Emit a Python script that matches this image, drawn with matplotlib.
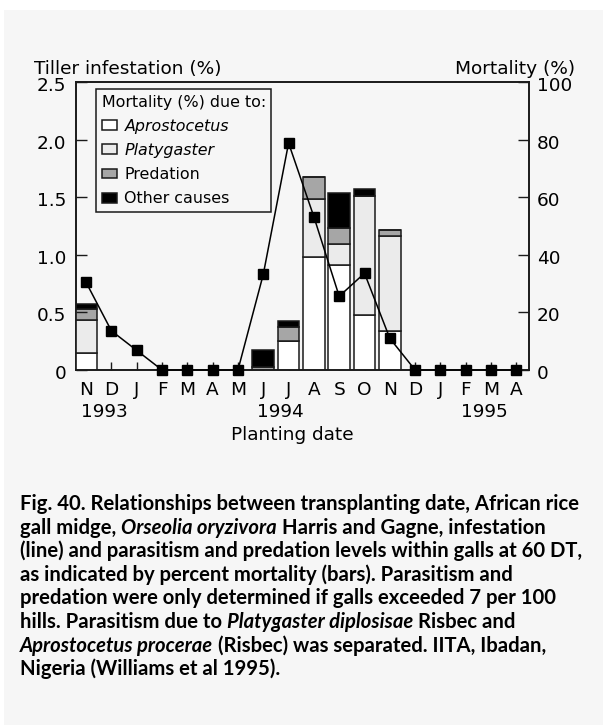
import numpy as np
import matplotlib
matplotlib.use("Agg")
import matplotlib.pyplot as plt
from matplotlib.patches import Rectangle
from matplotlib.transforms import ScaledTranslation

# ---- data -------------------------------------------------------------
months = ["N", "D", "J", "F", "M", "A", "M", "J", "J",
          "A", "S", "O", "N", "D", "J", "F", "M", "A"]
years = ["1993", "1994", "1995"]
year_centres = [0.74, 7.69, 15.72]          # positions on the month axis

# tiller infestation (%) per planting date
infestation = [0.76, 0.34, 0.17, 0.0, 0.0, 0.0, 0.0, 0.83, 1.97,
               1.33, 0.64, 0.84, 0.275, 0.0, 0.0, 0.0, 0.0, 0.0]

# planting dates where mortality was determined (index into months)
mortality_months = [0, 7, 8, 9, 10, 11, 12]
aprostocetus = [5.8, 0.0, 10.1, 39.1, 36.5, 19.2, 13.5]
platygaster = [11.6, 0.0, 0.0, 20.2, 7.1, 41.2, 33.0]
predation = [3.7, 1.0, 5.0, 7.8, 5.6, 0.0, 2.1]
other_causes = [1.8, 6.0, 2.0, 0.0, 12.4, 2.3, 0.0]

left_ticks = [0, 0.5, 1.0, 1.5, 2.0, 2.5]
left_ticklabels = ["0", "0.5", "1.0", "1.5", "2.0", "2.5"]
right_ticks = [0, 20, 40, 60, 80, 100]

caption_lines = [
    [("Fig. 40. Relationships between transplanting date, African rice", False)],
    [("gall midge,", False), ("Orseolia oryzivora", True),
     ("Harris and Gagne, infestation", False)],
    [("(line) and parasitism and predation levels within galls at 60 DT,", False)],
    [("as indicated by percent mortality (bars). Parasitism and", False)],
    [("predation were only determined if galls exceeded 7 per 100", False)],
    [("hills. Parasitism due to", False), ("Platygaster diplosisae", True),
     ("Risbec and", False)],
    [("Aprostocetus procerae", True),
     ("(Risbec) was separated. IITA, Ibadan,", False)],
    [("Nigeria (Williams et al 1995).", False)],
]

# ---- style ------------------------------------------------------------
W, H, DPI = 603, 725, 100
BG = "#f6f6f6"
INK = "#1a1a1a"
FS = 13.3
plt.rcParams["font.family"] = ["DejaVu Sans"]


def fx(px):
    return px / W


def fy(py):
    return 1 - py / H


fig = plt.figure(figsize=(W / DPI, H / DPI), dpi=DPI, facecolor="white")
fig.patches.append(Rectangle((fx(4), 0), 1, fy(10), transform=fig.transFigure,
                             facecolor=BG, edgecolor="none", zorder=-10))

ax = fig.add_axes([fx(76), fy(370), fx(529 - 76), (370 - 82) / H])
ax.set_facecolor(BG)
axL = ax.twinx()
ax.yaxis.tick_right()
axL.yaxis.tick_left()

# stacked mortality bars (right scale)
bottom = np.zeros(len(mortality_months))
components = [
    (aprostocetus, "white", "Aprostocetus"),
    (platygaster, "#ebebeb", "Platygaster"),
    (predation, "#a6a6a6", "Predation"),
    (other_causes, "black", "Other causes"),
]
for vals, colour, label in components:
    vals = np.asarray(vals)
    ax.bar(mortality_months, vals, width=0.86, bottom=bottom, color=colour,
           edgecolor=INK, linewidth=1.1, zorder=3, label=label)
    bottom += vals

ax.set_xlim(-0.4, 17.5)
ax.set_ylim(0, 100)
ax.set_yticks(right_ticks)
ax.set_xticks(np.arange(len(months)))
ax.set_xticklabels(months)

# infestation line (left scale)
axL.plot(np.arange(len(months)), infestation, color="black", lw=1.1,
         marker="s", ms=6.6, mfc="black", mec="black", clip_on=False, zorder=5)
axL.set_ylim(0, 2.5)
axL.set_yticks(left_ticks)
axL.set_yticklabels(left_ticklabels)

for a in (ax, axL):
    for s in a.spines.values():
        s.set_linewidth(1.2)
        s.set_color(INK)

ax.tick_params(axis="x", direction="in", length=6, width=1.0, color=INK,
               pad=8, labelsize=FS)
ax.tick_params(axis="y", direction="in", length=8, width=1.0, color=INK,
               pad=5.8, labelsize=FS)
axL.tick_params(axis="y", direction="in", length=8, width=1.0, color=INK,
                pad=7.2, labelsize=FS)

# nudge the value labels slightly below their ticks
drop = ScaledTranslation(0, -2 / DPI, fig.dpi_scale_trans)
for a in (ax, axL):
    for lbl in a.get_yticklabels():
        lbl.set_transform(lbl.get_transform() + drop)

xt = ax.get_xaxis_transform()
for yr, pos in zip(years, year_centres):
    ax.text(pos, -(417 - 370) / 288, yr, transform=xt, ha="center",
            va="baseline", fontsize=FS)
ax.text((292 - 76) / 453, -(440 - 370) / 288, "Planting date",
        transform=ax.transAxes, ha="center", va="baseline", fontsize=FS)

fig.text(fx(34), fy(73.5), "Tiller infestation (%)", ha="left", va="baseline",
         fontsize=FS)
fig.text(fx(575), fy(73.5), "Mortality (%)", ha="right", va="baseline",
         fontsize=FS)

leg = ax.legend(loc="upper left",
                bbox_to_anchor=((96 - 76) / 453, (370 - 89) / 288),
                title="Mortality (%) due to:", alignment="left",
                fontsize=11.4, title_fontsize=11.4, frameon=True,
                fancybox=False, edgecolor=INK, facecolor=BG, framealpha=1,
                handlelength=1.0, handleheight=0.57, handletextpad=0.45,
                labelspacing=0.58, borderpad=0.35, borderaxespad=0)
leg.get_frame().set_linewidth(1.1)
for t in leg.get_texts()[:2]:
    t.set_style("italic")

# ---- caption ----------------------------------------------------------
renderer = fig.canvas.get_renderer()
CAP_FS = 14.6
CAP_FONT = ["Lato", "DejaVu Sans"]


def text_width(s, italic):
    t = fig.text(0, 0, s, fontsize=CAP_FS, fontweight="bold",
                 style="italic" if italic else "normal", family=CAP_FONT)
    w = t.get_window_extent(renderer).width
    t.remove()
    return w


space = text_width("a a", False) - text_width("aa", False)
x0, y0, dy = 20, 510, 23.6
for i, segs in enumerate(caption_lines):
    x = x0
    y = y0 + i * dy
    for txt, ital in segs:
        t = fig.text(fx(x), fy(y), txt, fontsize=CAP_FS, fontweight="bold",
                     style="italic" if ital else "normal", family=CAP_FONT,
                     ha="left", va="baseline")
        x += t.get_window_extent(renderer).width + space

fig.savefig("out.png", dpi=DPI, facecolor=fig.get_facecolor())
